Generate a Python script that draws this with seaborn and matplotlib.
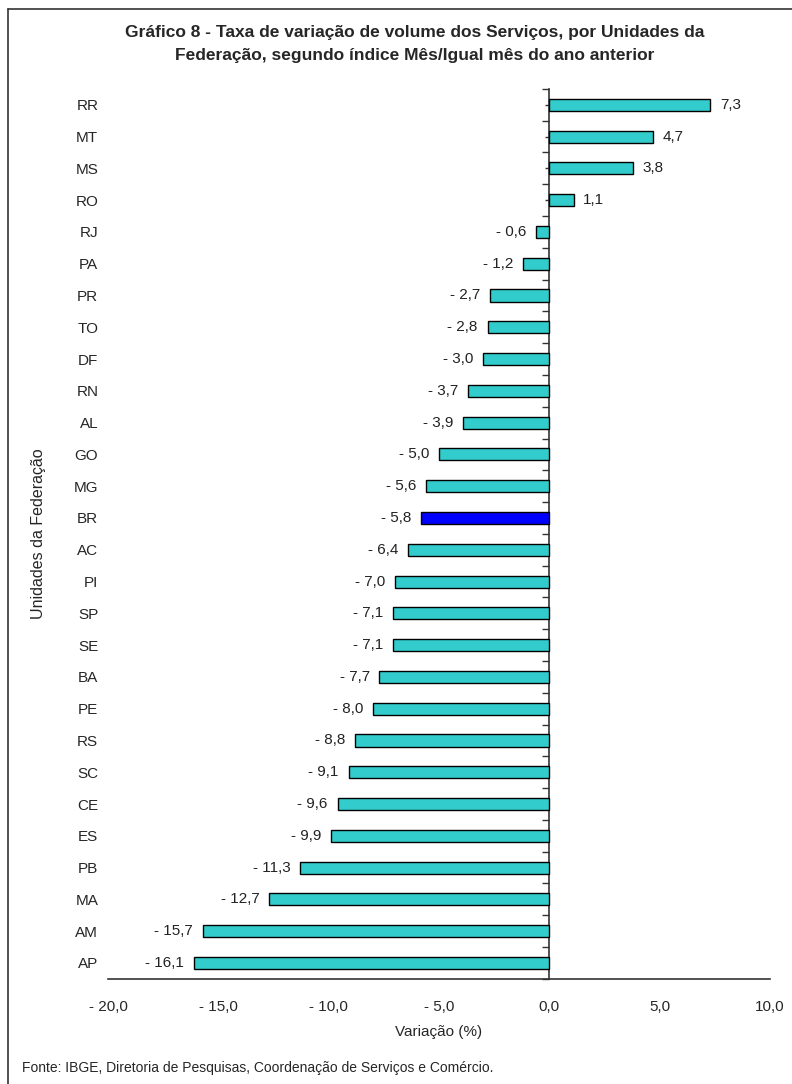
import numpy as np
import pandas as pd
import matplotlib
matplotlib.use("Agg")
import matplotlib.pyplot as plt
import seaborn as sns
from matplotlib.lines import Line2D

# dados do gráfico
ufs = ['RR', 'MT', 'MS', 'RO', 'RJ', 'PA', 'PR', 'TO', 'DF', 'RN', 'AL', 'GO', 'MG', 'BR',
       'AC', 'PI', 'SP', 'SE', 'BA', 'PE', 'RS', 'SC', 'CE', 'ES', 'PB', 'MA', 'AM', 'AP']
variacao = [7.3, 4.7, 3.8, 1.1, -0.6, -1.2, -2.7, -2.8, -3.0, -3.7, -3.9, -5.0, -5.6, -5.8,
            -6.4, -7.0, -7.1, -7.1, -7.7, -8.0, -8.8, -9.1, -9.6, -9.9, -11.3, -12.7, -15.7, -16.1]
xticks = [-20, -15, -10, -5, 0, 5, 10]

sns.set_style('white')
plt.rcParams['font.family'] = ['Liberation Sans', 'DejaVu Sans']

df = pd.DataFrame({'uf': ufs, 'var': variacao})
cores = {u: ('#0000FF' if u == 'BR' else '#33CCCC') for u in ufs}


def fmt(v):
    s = f'{abs(v):.1f}'.replace('.', ',')
    return ('- ' + s) if v < 0 else s


fig = plt.figure(figsize=(7.92, 10.84), dpi=100)
ax = fig.add_axes([0.1364, 0.097, 0.8358, 0.821])

sns.barplot(data=df, x='var', y='uf', hue='uf', palette=cores, orient='h', saturation=1,
            width=0.38, edgecolor='black', linewidth=1.0, legend=False, ax=ax)

for cont in ax.containers:
    vals = [b.get_width() for b in cont]
    ax.bar_label(cont, labels=[fmt(v) for v in vals], padding=7, fontsize=11, color='#222222')

ax.set_xlim(-20, 10)
ax.set_xticks(xticks)
ax.set_xticklabels([fmt(t) for t in xticks], fontsize=11)
ax.tick_params(axis='x', direction='out', length=5, width=1, color='#333333', pad=10)
ax.tick_params(axis='y', length=0, pad=7, labelsize=11)
ax.set_ylabel('Unidades da Federação', fontsize=11.5, labelpad=20)
ax.set_xlabel('Variação (%)', fontsize=11, labelpad=8)

for s in ['top', 'right', 'left']:
    ax.spines[s].set_visible(False)
ax.spines['bottom'].set_color('#333333')
ax.spines['bottom'].set_linewidth(1.2)

# eixo vertical no zero
sec = ax.secondary_yaxis(0, transform=ax.transData)
sec.set_yticks(np.arange(len(ufs) + 1) - 0.5)
sec.set_yticklabels([])
sec.set_yticks(np.arange(len(ufs)), minor=True)
sec.tick_params(axis='y', which='major', direction='out', length=5, width=1, color='#333333')
sec.tick_params(axis='y', which='minor', direction='out', length=3, width=1, color='#333333')
sec.spines['left'].set_color('#333333')
sec.spines['left'].set_linewidth(1.2)

fig.suptitle('Gráfico 8 - Taxa de variação de volume dos Serviços, por Unidades da\n'
             'Federação, segundo índice Mês/Igual mês do ano anterior',
             x=0.523, y=0.977, fontsize=12.5, fontweight='bold', linespacing=1.65)

fig.text(0.028, 0.011, 'Fonte: IBGE, Diretoria de Pesquisas, Coordenação de Serviços e Comércio.',
         fontsize=10)

# moldura
fig.add_artist(Line2D([0.01, 0.01], [0, 0.992], transform=fig.transFigure, color='#333333', lw=1.2))
fig.add_artist(Line2D([0.01, 1], [0.992, 0.992], transform=fig.transFigure, color='#333333', lw=1.2))

fig.savefig('out.png', dpi=100)
